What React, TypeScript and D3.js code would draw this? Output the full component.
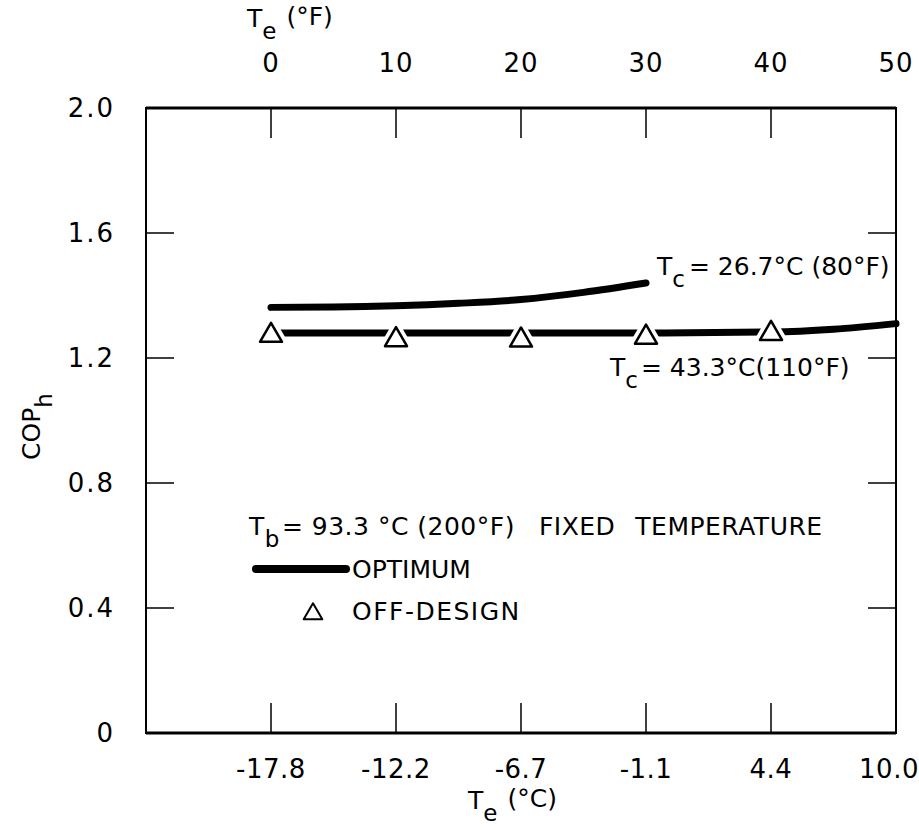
import * as d3 from "d3";
import React from "react";

// optimum curve, Tc = 26.7 C (80 F)
const tempF80 = [0, 5, 10, 15, 20, 25, 30];
const cop80 = [1.362, 1.363, 1.367, 1.375, 1.387, 1.41, 1.44];

// optimum curve, Tc = 43.3 C (110 F)
const tempF110 = [0, 10, 20, 30, 40, 45, 50];
const cop110 = [1.28, 1.28, 1.28, 1.28, 1.283, 1.292, 1.31];

// off-design points
const offDesignF = [0, 10, 20, 30, 40];
const offDesignCop = [1.272, 1.258, 1.257, 1.266, 1.278];

const topTicksF = [0, 10, 20, 30, 40, 50];
const bottomTickLabels = ["-17.8", "-12.2", "-6.7", "-1.1", "4.4", "10.0"];
const yTicks = [0, 0.4, 0.8, 1.2, 1.6, 2.0];
const yTickLabels = ["0", "0.4", "0.8", "1.2", "1.6", "2.0"];

const W = 919;
const H = 830;
const margin = { top: 108, right: 23, bottom: 97, left: 146 };
const font = "'DejaVu Sans', sans-serif";

export default function App() {
  const x = d3.scaleLinear().domain([-10, 50]).range([margin.left, W - margin.right]);
  const y = d3.scaleLinear().domain([0, 2]).range([H - margin.bottom, margin.top]);
  const x0 = x.range()[0], x1 = x.range()[1];
  const y0 = y.range()[0], y1 = y.range()[1];
  const tick = 28;

  const line = d3
    .line<[number, number]>()
    .x((d) => x(d[0]))
    .y((d) => y(d[1]))
    .curve(d3.curveMonotoneX);

  const d80 = line(tempF80.map((t, i) => [t, cop80[i]]) as [number, number][]) || "";
  const d110 = line(tempF110.map((t, i) => [t, cop110[i]]) as [number, number][]) || "";
  const tri = d3.symbol().type(d3.symbolTriangle).size(210)() || "";

  return (
    <svg width={W} height={H} style={{ position: "absolute", left: 0, top: 0, background: "#fff" }}>
      <g fontFamily={font} fill="#000">
        {/* frame */}
        <rect x={x0} y={y1} width={x1 - x0} height={y0 - y1} fill="none" stroke="#000" strokeWidth={2} />
        <line x1={x0} x2={x1} y1={y1} y2={y1} stroke="#000" strokeWidth={3} />
        <line x1={x0} x2={x1} y1={y0} y2={y0} stroke="#000" strokeWidth={3} />

        {/* x ticks, top and bottom */}
        {topTicksF.slice(0, 5).map((t) => (
          <g key={"xt" + t} stroke="#000" strokeWidth={1.5}>
            <line x1={x(t)} x2={x(t)} y1={y1} y2={y1 + tick + 2} />
            <line x1={x(t)} x2={x(t)} y1={y0} y2={y0 - tick - 2} />
          </g>
        ))}
        {topTicksF.map((t) => (
          <text key={"tl" + t} x={x(t)} y={y1 - 36} fontSize={26} textAnchor="middle" letterSpacing={1}>
            {t}
          </text>
        ))}
        {topTicksF.map((t, i) => (
          <text
            key={"bl" + t}
            x={i === 5 ? x(t) - 7 : x(t)}
            y={y0 + 45}
            fontSize={26}
            textAnchor="middle"
            letterSpacing={0.5}
          >
            {bottomTickLabels[i]}
          </text>
        ))}

        {/* y ticks, left and right */}
        {yTicks.slice(1, 5).map((v) => (
          <g key={"yt" + v} stroke="#000" strokeWidth={1.5}>
            <line x1={x0} x2={x0 + tick} y1={y(v)} y2={y(v)} />
            <line x1={x1} x2={x1 - tick} y1={y(v)} y2={y(v)} />
          </g>
        ))}
        {yTicks.map((v, i) => (
          <text key={"yl" + v} x={x0 - 31} y={y(v) + 9} fontSize={26} textAnchor="end" letterSpacing={2}>
            {yTickLabels[i]}
          </text>
        ))}

        {/* axis titles */}
        <text x={247} y={27} fontSize={25}>
          T<tspan dx={0} dy={12} fontSize={23}>e</tspan>
          <tspan dx={10} dy={-14}>(°F)</tspan>
        </text>
        <text x={468} y={809} fontSize={25}>
          T<tspan dx={0} dy={12} fontSize={23}>e</tspan>
          <tspan dx={10} dy={-14}>(°C)</tspan>
        </text>
        <text transform="translate(40,460) rotate(-90)" fontSize={25}>
          COP<tspan dy={12} fontSize={23}>h</tspan>
        </text>

        {/* curves */}
        <path d={d80} fill="none" stroke="#000" strokeWidth={7} strokeLinecap="round" />
        <path d={d110} fill="none" stroke="#000" strokeWidth={7} strokeLinecap="round" />

        {/* off-design triangles */}
        {offDesignF.map((t, i) => (
          <g key={"od" + t} transform={`translate(${x(t)},${y(offDesignCop[i])})`}>
            <path d={tri} fill="#fff" stroke="#fff" strokeWidth={10} strokeLinejoin="round" />
            <path d={tri} fill="#fff" stroke="#000" strokeWidth={2.5} strokeLinejoin="round" />
          </g>
        ))}

        {/* curve labels */}
        <text x={657} y={275} fontSize={25}>
          T<tspan dx={0} dy={12} fontSize={23}>c</tspan>
          <tspan dx={4} dy={-12}>= 26.7°C (80°F)</tspan>
        </text>
        <text x={610} y={376} fontSize={25}>
          T<tspan dx={0} dy={12} fontSize={23}>c</tspan>
          <tspan dx={3} dy={-12}>= 43.3°C(110°F)</tspan>
        </text>

        {/* fixed temperature note and legend */}
        <text x={249} y={535} fontSize={25} letterSpacing={0.5}>
          T<tspan dx={0} dy={12} fontSize={23}>b</tspan>
          <tspan dx={2} dy={-12}>= 93.3 °C (200°F)</tspan>
          <tspan dx={24}>FIXED</tspan>
          <tspan dx={20}>TEMPERATURE</tspan>
        </text>
        <line x1={256} x2={346} y1={569} y2={569} stroke="#000" strokeWidth={8} strokeLinecap="round" />
        <text x={352} y={578} fontSize={25}>OPTIMUM</text>
        <g transform="translate(313,614)">
          <path d={d3.symbol().type(d3.symbolTriangle).size(150)() || ""} fill="none" stroke="#000" strokeWidth={2} strokeLinejoin="round" />
        </g>
        <text x={352} y={620} fontSize={25} letterSpacing={1.5}>OFF-DESIGN</text>
      </g>
    </svg>
  );
}
